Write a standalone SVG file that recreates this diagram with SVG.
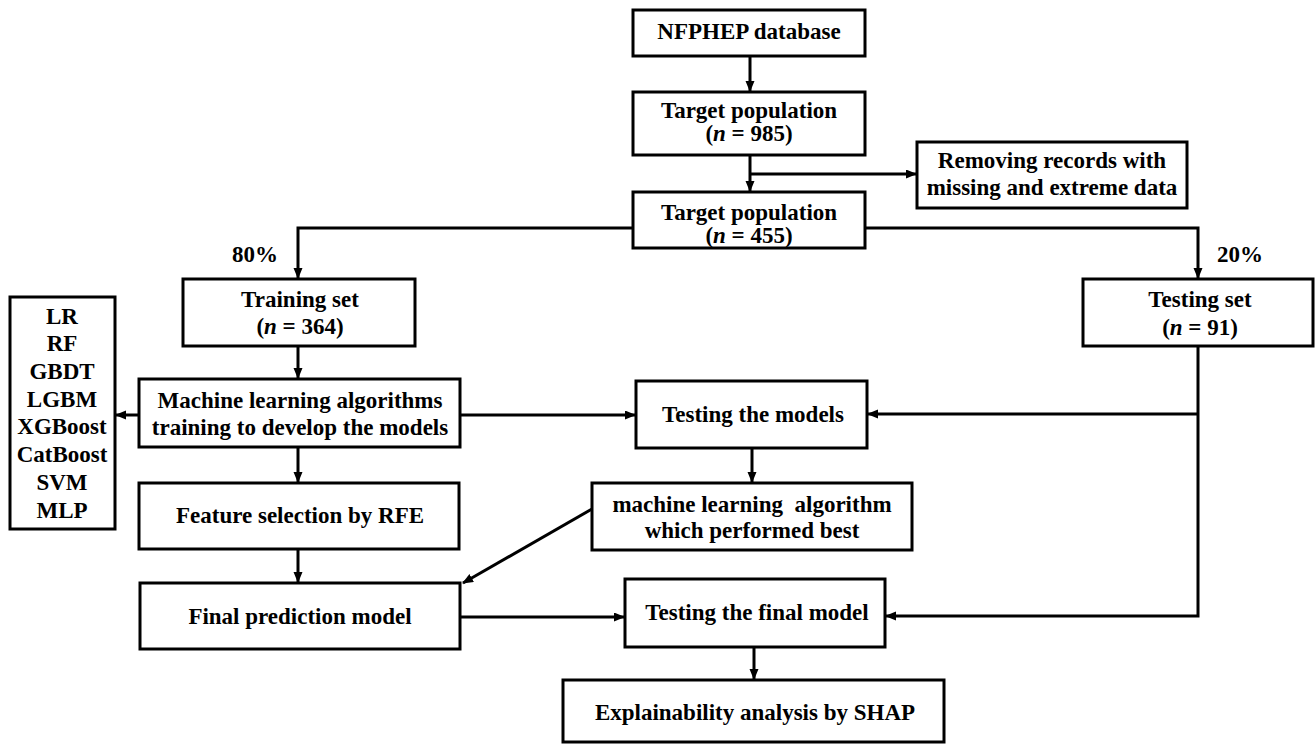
<svg xmlns="http://www.w3.org/2000/svg" width="1315" height="744" viewBox="0 0 1315 744">
<style>
.box{fill:#fff;stroke:#000;stroke-width:3}
.t{font-family:"Liberation Serif","Times New Roman",serif;font-weight:bold;font-size:23px;fill:#000;text-anchor:middle}
.c{fill:none;stroke:#000;stroke-width:3}
</style>
<defs>
<marker id="ah" markerWidth="11" markerHeight="10" refX="10" refY="4.5" orient="auto" markerUnits="userSpaceOnUse">
<path d="M0,0 L11,4.5 L0,9 z" fill="#000"/>
</marker>
</defs>
<rect width="1315" height="744" fill="#fff"/>
<g id="connectors">
<path class="c" d="M750,56 V91" marker-end="url(#ah)"/>
<path class="c" d="M750,155 V191" marker-end="url(#ah)"/>
<path class="c" d="M750,174 H916" marker-end="url(#ah)"/>
<path class="c" d="M633,228 H298 V278" marker-end="url(#ah)"/>
<path class="c" d="M865,228 H1198 V278" marker-end="url(#ah)"/>
<path class="c" d="M298,346 V378" marker-end="url(#ah)"/>
<path class="c" d="M139,415 H116" marker-end="url(#ah)"/>
<path class="c" d="M460,415 H635" marker-end="url(#ah)"/>
<path class="c" d="M1198,346 V616 H886" marker-end="url(#ah)"/>
<path class="c" d="M1198,414 H868" marker-end="url(#ah)"/>
<path class="c" d="M752,448 V482" marker-end="url(#ah)"/>
<path class="c" d="M298,447 V482" marker-end="url(#ah)"/>
<path class="c" d="M298,549 V582" marker-end="url(#ah)"/>
<path class="c" d="M592,509 L463,583" marker-end="url(#ah)"/>
<path class="c" d="M460,617 H624" marker-end="url(#ah)"/>
<path class="c" d="M754,647 V679" marker-end="url(#ah)"/>
</g>
<g id="labels">
<text class="t" x="255" y="262">80%</text>
<text class="t" x="1240" y="262">20%</text>
</g>
<g id="nfphep">
<rect class="box" x="633" y="10" width="232" height="46"/>
<text class="t" x="749" y="39">NFPHEP database</text>
</g>
<g id="target985">
<rect class="box" x="633" y="92" width="232" height="63"/>
<text class="t" x="749" y="118">Target population</text>
<text class="t" x="749" y="141">(<tspan font-style="italic">n</tspan> = 985)</text>
</g>
<g id="removing">
<rect class="box" x="917" y="142" width="270" height="66"/>
<text class="t" x="1052" y="168">Removing records with</text>
<text class="t" x="1052" y="195">missing and extreme data</text>
</g>
<g id="target455">
<rect class="box" x="633" y="192" width="232" height="56"/>
<text class="t" x="749" y="220">Target population</text>
<text class="t" x="749" y="243">(<tspan font-style="italic">n</tspan> = 455)</text>
</g>
<g id="training">
<rect class="box" x="183" y="279" width="232" height="67"/>
<text class="t" x="300" y="307">Training set</text>
<text class="t" x="300" y="334">(<tspan font-style="italic">n</tspan> = 364)</text>
</g>
<g id="testingset">
<rect class="box" x="1083" y="279" width="230" height="67"/>
<text class="t" x="1200" y="307">Testing set</text>
<text class="t" x="1200" y="335">(<tspan font-style="italic">n</tspan> = 91)</text>
</g>
<g id="algorithms">
<rect class="box" x="10" y="297" width="105" height="232"/>
<text class="t" x="62" y="324">LR</text>
<text class="t" x="62" y="351">RF</text>
<text class="t" x="62" y="379">GBDT</text>
<text class="t" x="62" y="407">LGBM</text>
<text class="t" x="62" y="434">XGBoost</text>
<text class="t" x="62" y="462">CatBoost</text>
<text class="t" x="62" y="490">SVM</text>
<text class="t" x="62" y="518">MLP</text>
</g>
<g id="mltraining">
<rect class="box" x="139" y="379" width="321" height="68"/>
<text class="t" x="300" y="408">Machine learning algorithms</text>
<text class="t" x="300" y="435">training to develop the models</text>
</g>
<g id="testingmodels">
<rect class="box" x="636" y="381" width="231" height="67"/>
<text class="t" x="753" y="422">Testing the models</text>
</g>
<g id="feature">
<rect class="box" x="139" y="483" width="320" height="66"/>
<text class="t" x="300" y="523">Feature selection by RFE</text>
</g>
<g id="mlbest">
<rect class="box" x="592" y="483" width="320" height="67"/>
<text class="t" x="752" y="512" xml:space="preserve">machine learning  algorithm</text>
<text class="t" x="752" y="538">which performed best</text>
</g>
<g id="finalmodel">
<rect class="box" x="140" y="583" width="320" height="66"/>
<text class="t" x="300" y="624">Final prediction model</text>
</g>
<g id="testingfinal">
<rect class="box" x="625" y="579" width="260" height="68"/>
<text class="t" x="757" y="620">Testing the final model</text>
</g>
<g id="shap">
<rect class="box" x="563" y="680" width="381" height="62"/>
<text class="t" x="755" y="720">Explainability analysis by SHAP</text>
</g>
</svg>
